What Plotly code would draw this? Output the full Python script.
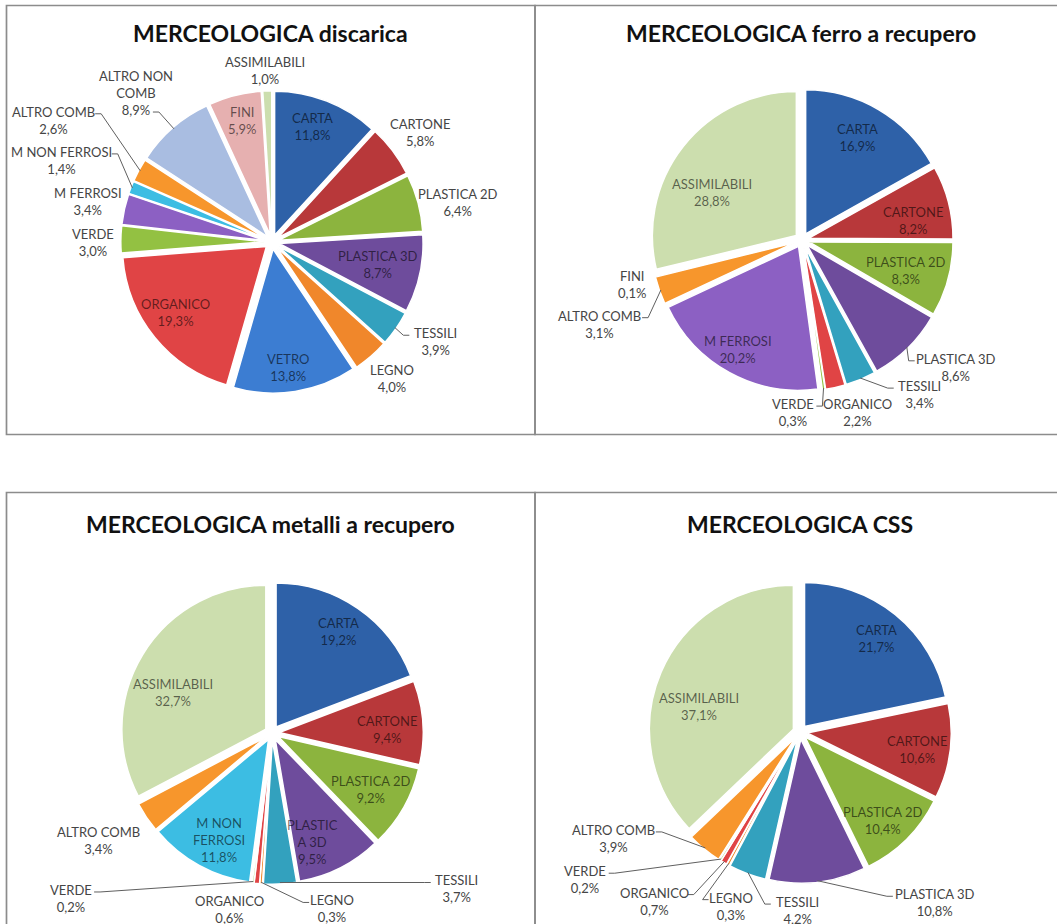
import math
import plotly.graph_objects as go

# ---- data -------------------------------------------------------------
CATEGORIES = [
    "CARTA", "CARTONE", "PLASTICA 2D", "PLASTICA 3D", "TESSILI", "LEGNO",
    "VETRO", "ORGANICO", "VERDE", "M FERROSI", "M NON FERROSI",
    "ALTRO COMB", "ALTRO NON COMB", "FINI", "ASSIMILABILI",
]

DISCARICA = [11.8, 5.8, 6.4, 8.7, 3.9, 4.0, 13.8, 19.3, 3.0, 3.4, 1.4, 2.6, 8.9, 5.9, 1.0]
FERRO_RECUPERO = [16.9, 8.2, 8.3, 8.6, 3.4, 0, 0, 2.2, 0.3, 20.2, 0, 3.1, 0, 0.1, 28.8]
METALLI_RECUPERO = [19.2, 9.4, 9.2, 9.5, 3.7, 0.3, 0, 0.6, 0.2, 0, 11.8, 3.4, 0, 0, 32.7]
CSS = [21.7, 10.6, 10.4, 10.8, 4.2, 0.3, 0, 0.7, 0.2, 0, 0, 3.9, 0, 0, 37.1]

TITLES = [
    "MERCEOLOGICA discarica",
    "MERCEOLOGICA ferro a recupero",
    "MERCEOLOGICA metalli a recupero",
    "MERCEOLOGICA CSS",
]

# ---- styling ------------------------------------------------------------
COLORS = {
    "CARTA": "#2E61A8",
    "CARTONE": "#B8383A",
    "PLASTICA 2D": "#8CB43E",
    "PLASTICA 3D": "#6E4C9C",
    "TESSILI": "#33A1BE",
    "LEGNO": "#F0872B",
    "VETRO": "#3C7DD2",
    "ORGANICO": "#E04445",
    "VERDE": "#93C142",
    "M FERROSI": "#8C60C3",
    "M NON FERROSI": "#3CBDE3",
    "ALTRO COMB": "#F7962C",
    "ALTRO NON COMB": "#A9BDE1",
    "FINI": "#E6B0B0",
    "ASSIMILABILI": "#CCDEAE",
}

W, H = 1057, 924
R = 144          # unexploded pie radius in px
PULL = 0.05      # slice explosion as a fraction of the radius
FONT = "Lato"
LABEL_SIZE = 13
TITLE_SIZE = 23
LINE_H = LABEL_SIZE * 1.3
OUT_COLOR = "#454545"
IN_COLOR = "rgba(0,0,0,0.58)"
LEADER_COLOR = "#5f5f5f"

# label placement: (radius factor, angle shift in degrees, leader spec)
# leader spec = (side of label, line index) or None
LAYOUT_DISCARICA = {
    "CARTA": (0.85, -2, None),
    "CARTONE": (1.28, 0.6, None),
    "PLASTICA 2D": (1.32, 3.2, None),
    "PLASTICA 3D": (0.75, 0, None),
    "TESSILI": (1.33, -3.5, ("l", 0)),
    "LEGNO": (1.26, -0.5, None),
    "VETRO": (0.88, 1.6, None),
    "ORGANICO": (0.83, 3.2, None),
    "VERDE": (1.24, -1, None),
    "M FERROSI": (1.31, -0.2, None),
    "M NON FERROSI": (1.57, 0, ("r", 0)),
    "ALTRO COMB": (1.74, 0.7, ("r", 0)),
    "ALTRO NON COMB": (1.40, -1.5, ("r", 2)),
    "FINI": (0.87, 0.4, None),
    "ASSIMILABILI": (1.19, -0.5, None),
}
LAYOUT_FERRO = {
    "CARTA": (0.81, -1.9, None),
    "CARTONE": (0.78, 4.7, None),
    "PLASTICA 2D": (0.75, 1.4, None),
    "PLASTICA 3D": (1.39, -6.1, ("l", 0)),
    "TESSILI": (1.35, -14.5, ("l", 0)),
    "ORGANICO": (1.26, -5.2, None),
    "VERDE": (1.20, 11.3, ("r", 0)),
    "M FERROSI": (0.88, 1.8, None),
    "ALTRO COMB": (1.52, -3.1, ("r", 0)),
    "FINI": (1.22, -0.9, None),
    "ASSIMILABILI": (0.71, -10.3, None),
}
LAYOUT_METALLI = {
    "CARTA": (0.84, -1.4, None),
    "CARTONE": (0.80, 2, None),
    "PLASTICA 2D": (0.79, 0.4, None),
    "PLASTICA 3D": (0.81, 6.4, None),
    "TESSILI": (1.68, -46.8, ("l", 0)),
    "LEGNO": (1.29, -22.9, ("l", 0)),
    "ORGANICO": (1.26, 7.9, None),
    "VERDE": (1.81, 43.4, ("r", 0)),
    "M NON FERROSI": (0.83, -2.5, None),
    "ALTRO COMB": (1.42, 2, None),
    "ASSIMILABILI": (0.74, -8.9, None),
}
LAYOUT_CSS = {
    "CARTA": (0.84, 0, None),
    "CARTONE": (0.82, 1.4, None),
    "PLASTICA 2D": (0.84, 1.6, None),
    "PLASTICA 3D": (1.51, -31.6, ("l", 0)),
    "TESSILI": (1.24, -19.4, ("l", 0)),
    "LEGNO": (1.30, -6.9, ("l", 0)),
    "ORGANICO": (1.55, 10.5, ("r", 0)),
    "VERDE": (1.81, 23.6, ("r", 0)),
    "ALTRO COMB": (1.49, 21, ("r", 0)),
    "ASSIMILABILI": (0.72, -9.2, None),
}

CHARTS = [
    dict(values=DISCARICA, title=TITLES[0], center=(272, 242), title_pos=(270, 33),
         layout=LAYOUT_DISCARICA, names={"ALTRO NON COMB": "ALTRO NON<br>COMB"}),
    dict(values=FERRO_RECUPERO, title=TITLES[1], center=(802, 240), title_pos=(801, 33),
         layout=LAYOUT_FERRO, names={}),
    dict(values=METALLI_RECUPERO, title=TITLES[2], center=(272, 733), title_pos=(270, 524),
         layout=LAYOUT_METALLI,
         names={"PLASTICA 3D": "PLASTIC<br>A 3D", "M NON FERROSI": "M NON<br>FERROSI"}),
    dict(values=CSS, title=TITLES[3], center=(800, 732), title_pos=(800, 524),
         layout=LAYOUT_CSS, names={}),
]

PANELS = [  # frame rectangles in px (x0, y0, x1, y1)
    (6.5, 5.5, 535, 434.5),
    (535, 5.5, 1064, 434.5),
    (6.5, 492.5, 535, 940),
    (535, 492.5, 1064, 940),
]


def px(x):
    return x / W


def py(y):
    return 1 - y / H


def fmt(v):
    return f"{v:.1f}".replace(".", ",") + "%"


def text_width(s):
    w = 0.0
    for ch in s:
        if ch in "IJ":
            w += 3.6
        elif ch in ",. ":
            w += 3.2
        elif ch == "%":
            w += 10.5
        elif ch.isdigit():
            w += 7.0
        elif ch == "L":
            w += 6.4
        elif ch == "M":
            w += 11.3
        elif ch.isupper():
            w += 8.2
        else:
            w += 6.5
    return w


fig = go.Figure()
shapes = []
annotations = []

for (x0, y0, x1, y1) in PANELS:
    shapes.append(dict(type="rect", xref="paper", yref="paper",
                       x0=px(x0), x1=px(x1), y0=py(y1), y1=py(y0),
                       line=dict(color="#8c8c8c", width=1.7), fillcolor="rgba(0,0,0,0)",
                       layer="below"))

for chart in CHARTS:
    cx, cy = chart["center"]
    half = R * (1 + PULL)
    cats = [c for c, v in zip(CATEGORIES, chart["values"]) if v > 0]
    vals = [v for v in chart["values"] if v > 0]

    fig.add_trace(go.Pie(
        labels=cats, values=vals, sort=False, direction="clockwise", rotation=0,
        pull=PULL, textinfo="none", hoverinfo="label+percent", showlegend=False,
        marker=dict(colors=[COLORS[c] for c in cats], line=dict(color="white", width=1.5)),
        domain=dict(x=[px(cx - half), px(cx + half)], y=[py(cy + half), py(cy - half)]),
    ))

    tx, ty = chart["title_pos"]
    annotations.append(dict(
        text="<b>" + chart["title"] + "</b>", x=px(tx), y=py(ty), xref="paper", yref="paper",
        xanchor="center", yanchor="middle", showarrow=False,
        font=dict(family=FONT, size=TITLE_SIZE, color="#111111"),
    ))

    total = sum(vals)
    cum = 0.0
    for c, v in zip(cats, vals):
        mid = 360.0 * (cum + v / 2) / total
        cum += v
        rf, da, lead = chart["layout"][c]
        a = math.radians(mid + da)
        lx = cx + rf * R * math.sin(a)
        ly = cy - rf * R * math.cos(a)
        lines = chart["names"].get(c, c).split("<br>") + [fmt(v)]
        inside = rf < 1
        annotations.append(dict(
            text="<br>".join(lines), x=px(lx), y=py(ly), xref="paper", yref="paper",
            xanchor="center", yanchor="middle", showarrow=False, align="center",
            font=dict(family=FONT, size=LABEL_SIZE, color=IN_COLOR if inside else OUT_COLOR),
        ))
        if lead:
            side, idx = lead
            line_y = ly - (len(lines) - 1) * LINE_H / 2 + idx * LINE_H + 2
            hw = text_width(lines[idx]) / 2
            if side == "l":
                ax = lx - hw - 3
                bx = ax - 6
            else:
                ax = lx + hw + 3
                bx = ax + 6
            am = math.radians(mid)
            er = R * (1 + PULL) - 1.5
            ex = cx + er * math.sin(am)
            ey = cy - er * math.cos(am)
            path = (f"M {px(ex):.5f},{py(ey):.5f} L {px(bx):.5f},{py(line_y):.5f} "
                    f"L {px(ax):.5f},{py(line_y):.5f}")
            shapes.append(dict(type="path", xref="paper", yref="paper", path=path,
                               line=dict(color=LEADER_COLOR, width=1)))

fig.update_layout(
    width=W, height=H, margin=dict(l=0, r=0, t=0, b=0),
    paper_bgcolor="white", plot_bgcolor="white",
    shapes=shapes, annotations=annotations,
    font=dict(family=FONT),
)

fig.write_html("out.html")
